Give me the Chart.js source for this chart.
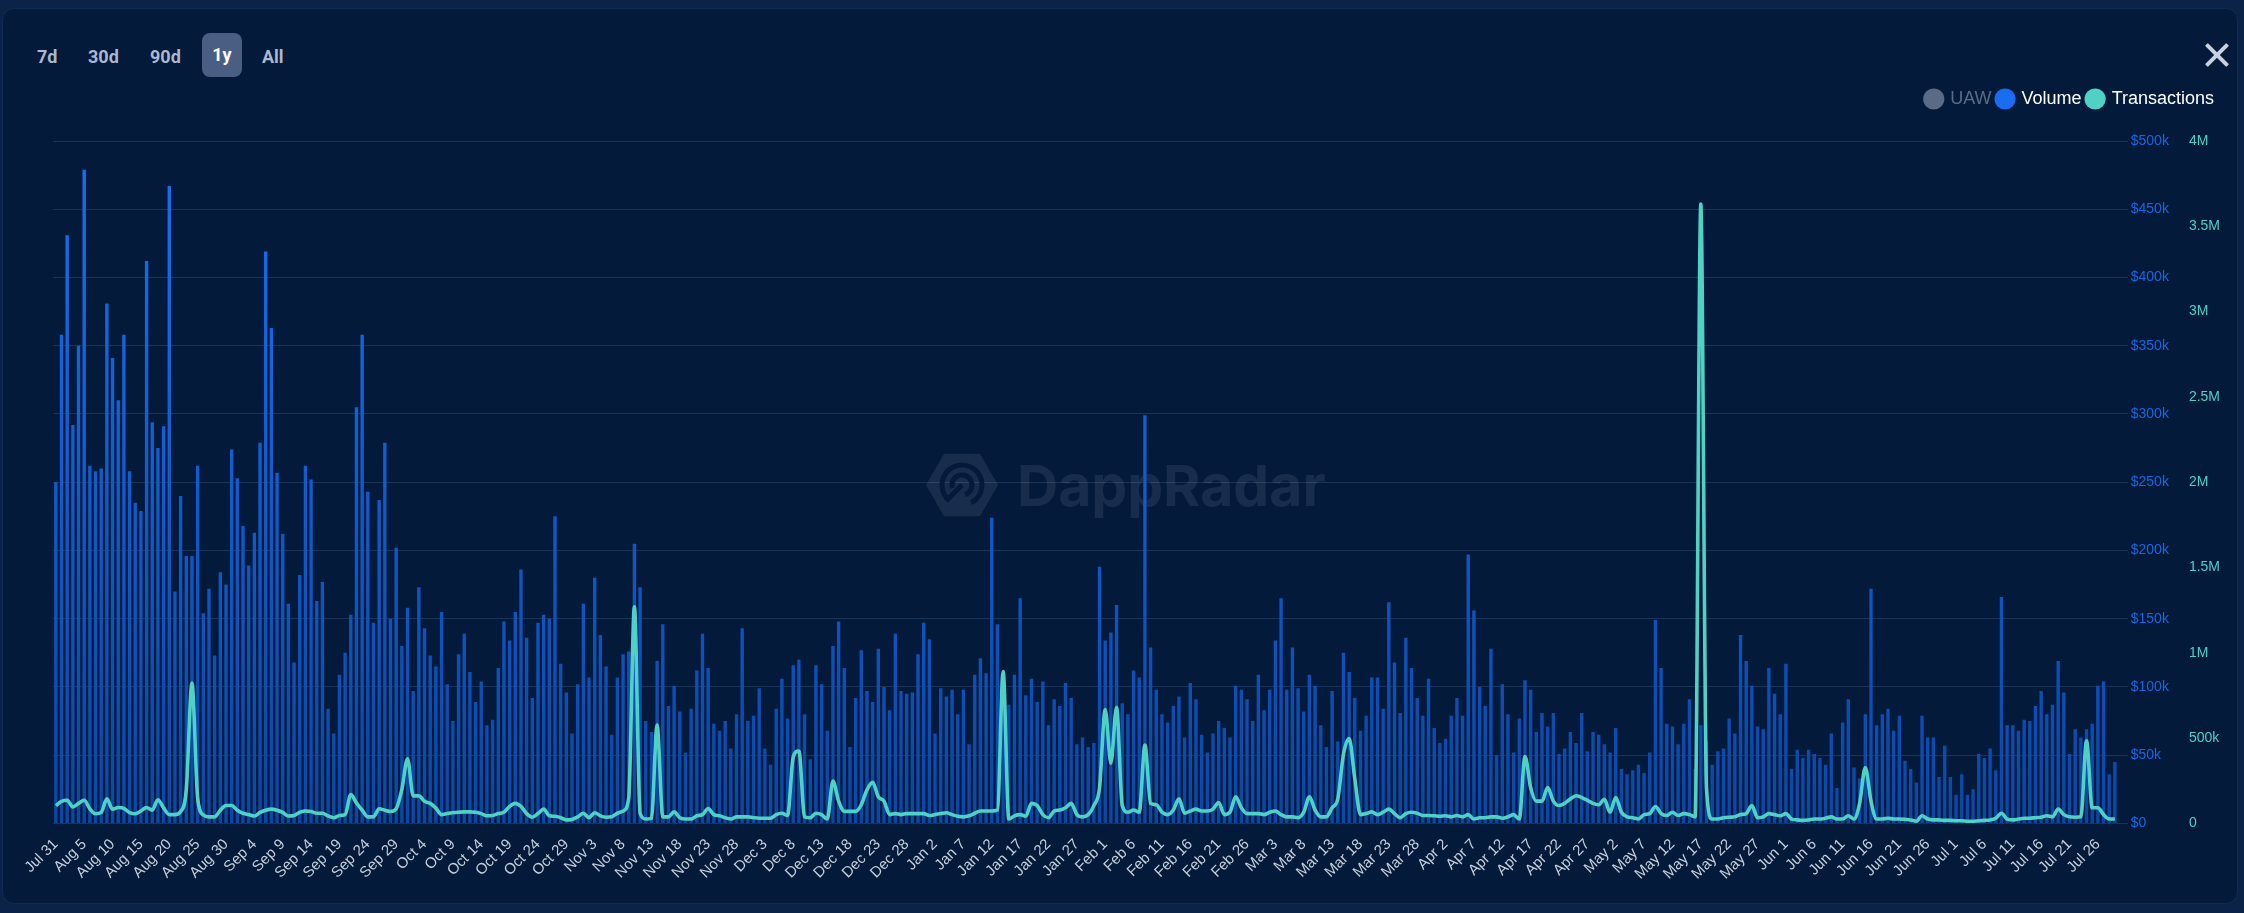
<!DOCTYPE html>
<html lang="en">
<head>
<meta charset="UTF-8">
<title>Volume / Transactions - 1y</title>
<script src="https://cdn.jsdelivr.net/npm/chart.js@4.4.0/dist/chart.umd.min.js"></script>
<style>
  html, body { margin: 0; padding: 0; width: 2244px; height: 913px; overflow: hidden; background: #0a2347; font-family: "Liberation Sans", Arial, sans-serif; }
  .panel { position: absolute; left: 2px; top: 8px; width: 2236px; height: 896px; background: #031a3a; border-radius: 12px; border: 1px solid #0d2b54; box-sizing: border-box; }
  .range { position: absolute; top: 46px; font: bold 18px Roboto, "Liberation Sans", sans-serif; color: #aab8cf; }
  .range.active { top: 33px; left: 202px; width: 40px; height: 44px; line-height: 44px; text-align: center; background: #4a5e84; color: #fff; border-radius: 8px; }
  .close { position: absolute; left: 2205px; top: 43px; width: 24px; height: 24px; }
  .close:before, .close:after { content: ""; position: absolute; left: 10px; top: -3px; width: 4px; height: 30px; background: #c9d1dd; border-radius: 1px; }
  .close:before { transform: rotate(45deg); }
  .close:after { transform: rotate(-45deg); }
  #wrap { position: absolute; left: 0; top: 84px; width: 2229px; height: 834px; }
</style>
</head>
<body>
<div class="panel"></div>
<span class="range" style="left:37px">7d</span>
<span class="range" style="left:88px">30d</span>
<span class="range" style="left:150px">90d</span>
<span class="range active">1y</span>
<span class="range" style="left:262px">All</span>
<div class="close"></div>

<div id="wrap"><canvas id="chart"></canvas></div>

<script>
// daily volume, in $k
const volume = [
  250,358,431,292,350,479,262,258,260,381, 341,310,358,258,235,229,412,294,275,291,
  467,170,240,196,196,262,154,172,123,184, 175,274,253,218,189,213,279,419,363,257,
  212,161,118,182,262,252,163,177,84,66, 109,125,153,305,358,243,147,237,279,150,
  202,130,158,97,173,143,123,115,155,102, 75,124,139,111,89,104,72,76,114,148,
  134,155,186,136,92,147,153,150,225,117, 96,66,102,161,107,180,138,115,65,107,
  124,126,205,173,75,67,119,146,86,101, 82,52,84,112,139,114,73,68,75,55,
  80,143,75,79,99,55,43,84,106,77, 116,120,80,47,116,102,68,130,148,114,
  56,92,127,97,89,128,100,83,139,97, 95,96,124,147,135,66,99,93,98,80,
  98,58,109,121,110,224,146,105,87,109, 165,94,106,89,104,72,91,86,103,92,
  58,63,56,59,188,134,140,160,88,80, 112,107,299,129,98,80,74,86,93,63,
  103,91,65,52,66,75,70,63,101,98, 91,75,109,83,98,134,165,98,129,99,
  82,109,101,72,56,97,60,125,111,92, 68,79,107,107,84,162,118,81,136,114,
  92,79,106,70,59,62,79,92,79,197, 156,100,86,128,50,102,80,52,77,105,
  98,67,81,71,81,51,55,67,59,81, 53,67,65,58,52,70,40,36,39,43,
  37,52,149,114,73,71,58,73,91,40, 72,60,43,53,55,77,66,138,119,101,
  71,69,114,95,80,117,40,54,48,54, 51,48,43,66,26,74,91,41,33,80,
  172,72,80,84,68,79,46,40,30,79, 63,63,34,57,34,21,36,21,25,51,
  48,55,39,166,72,72,68,76,75,86, 97,80,87,119,96,51,69,63,69,73,
  101,104,36,45
];

// daily transactions, in thousands
const transactions = [
  105,130,136,97,118,136,86,57,65,144, 84,94,89,63,57,73,94,78,139,91,
  52,52,70,200,823,150,50,39,39,78, 105,105,78,60,52,44,65,78,84,78,
  65,44,47,65,73,70,60,60,44,34, 47,52,170,120,78,39,39,86,78,70,
  86,200,379,162,162,130,118,90,52,58, 63,66,68,68,66,58,45,47,58,66,
  100,118,100,58,37,58,84,45,42,34, 21,24,39,60,34,63,45,37,39,60,
  73,150,1270,60,26,30,577,39,39,68, 34,26,26,45,52,87,52,45,34,26,
  39,39,39,34,31,31,31,52,60,47, 390,425,39,34,60,52,26,249,131,71,
  71,71,110,197,241,157,131,52,58,52, 58,58,58,58,47,52,58,63,52,42,
  39,45,60,73,73,73,79,891,26,45, 52,42,118,105,52,34,73,79,92,118,
  52,39,52,105,210,668,354,681,105,66, 79,66,459,118,110,66,52,79,144,60,
  73,84,73,73,84,123,52,66,157,92, 58,58,58,52,66,73,52,39,39,34,
  66,157,79,39,39,92,144,406,498,262, 52,58,68,52,66,84,58,34,58,66,
  60,47,47,45,42,45,39,47,39,52, 26,34,34,39,39,31,39,52,26,393,
  210,131,131,210,131,105,118,144,163,152, 136,118,110,142,66,152,66,39,34,26,
  52,58,100,58,47,66,47,58,52,39, 3630,210,26,26,34,37,39,52,58,105,
  34,39,58,52,45,58,26,21,18,21, 26,26,31,39,26,26,45,26,118,328,
  131,26,26,31,26,26,24,21,13,45, 26,21,21,18,18,16,16,13,13,16,
  18,21,31,60,26,21,26,31,31,34, 37,45,39,84,52,39,37,39,485,92,
  92,52,26,26
];

// one category per day, starting Jul 31
const monthNames = ['Jan','Feb','Mar','Apr','May','Jun','Jul','Aug','Sep','Oct','Nov','Dec'];
const firstDay = Date.UTC(2022, 6, 31);
const days = volume.map((_, i) => {
  const d = new Date(firstDay + i * 86400000);
  return monthNames[d.getUTCMonth()] + ' ' + d.getUTCDate();
});

const BG = '#031a3a';
const BLUE = '#1a6cf0';
const TEAL = '#4fd1c5';
const FONT = '"Liberation Sans", Arial, sans-serif';

// faint DappRadar mark behind the plot
const watermark = {
  id: 'watermark',
  beforeDatasetsDraw(chart) {
    const ctx = chart.ctx;
    const cx = 962, cy = 401;
    ctx.save();
    ctx.fillStyle = 'rgba(255,255,255,0.085)';
    ctx.beginPath();
    for (let k = 0; k < 6; k++) {
      const a = Math.PI / 3 * k;
      ctx.lineTo(cx + 36 * Math.cos(a), cy + 36 * Math.sin(a));
    }
    ctx.closePath();
    ctx.fill();
    ctx.strokeStyle = BG;
    ctx.lineWidth = 5;
    ctx.beginPath(); ctx.arc(cx, cy, 20, Math.PI * 0.75, Math.PI * 2.35); ctx.stroke();
    ctx.beginPath(); ctx.arc(cx, cy, 10, Math.PI * 0.9, Math.PI * 2.4); ctx.stroke();
    ctx.beginPath(); ctx.moveTo(cx, cy); ctx.lineTo(cx - 16, cy + 16); ctx.stroke();
    ctx.font = 'bold 57px Inter, "Liberation Sans", sans-serif';
    ctx.textBaseline = 'alphabetic';
    ctx.fillText('DappRadar', cx + 55, cy + 21);
    ctx.restore();
  }
};

// more room under the legend, and pull the legend in from the right edge
const legendFix = {
  id: 'legendFix',
  beforeInit(chart) {
    const fit = chart.legend.fit;
    chart.legend.fit = function () { fit.bind(chart.legend)(); this.height += 23; };
  },
  afterUpdate(chart) {
    chart.legend.right -= 9;
  }
};

const ctx = document.getElementById('chart').getContext('2d');
new Chart(ctx, {
  data: {
    labels: days,
    datasets: [
      { type: 'line', label: 'UAW', data: [], hidden: true, yAxisID: 'y1' },
      {
        type: 'bar', label: 'Volume', data: volume, yAxisID: 'y', order: 2,
        backgroundColor: c => {
          const area = c.chart.chartArea;
          if (!area) return BLUE;
          const g = c.chart.ctx.createLinearGradient(0, area.top, 0, area.bottom);
          g.addColorStop(0, '#1a70f2');
          g.addColorStop(1, '#0b47a6');
          return g;
        },
        categoryPercentage: 0.9, barPercentage: 0.66
      },
      {
        type: 'line', label: 'Transactions', data: transactions, yAxisID: 'y1', order: 1,
        borderColor: TEAL, borderWidth: 3.6, pointRadius: 0, cubicInterpolationMode: 'monotone'
      }
    ]
  },
  options: {
    responsive: true,
    maintainAspectRatio: false,
    animation: false,
    layout: { padding: { left: 53, right: 0, top: 0, bottom: 23 } },
    plugins: {
      tooltip: { enabled: false },
      legend: {
        position: 'top', align: 'end',
        labels: {
          usePointStyle: true, pointStyle: 'circle', boxWidth: 15, boxHeight: 15, padding: 6,
          font: { size: 18, family: FONT },
          generateLabels: chart => chart.data.datasets.map((ds, i) => {
            const off = i === 0;
            const col = off ? '#5b6b85' : (i === 1 ? BLUE : TEAL);
            return { text: ds.label, fillStyle: col, strokeStyle: col, lineWidth: 0, pointStyle: 'circle',
                     fontColor: off ? '#5b6b85' : '#ffffff', hidden: false, datasetIndex: i };
          })
        }
      }
    },
    scales: {
      x: {
        grid: { display: false, drawTicks: false },
        border: { display: false },
        ticks: {
          autoSkip: false, minRotation: 45, maxRotation: 45, padding: 12,
          color: '#c6cfdb', font: { size: 15, family: FONT },
          callback: function (v, i) { return i % 5 === 0 ? days[i] : ''; }
        }
      },
      y: {
        position: 'right', min: 0, max: 500,
        grid: { color: '#1a3357', lineWidth: 1, tickLength: 10 },
        border: { display: false },
        ticks: {
          stepSize: 50, padding: 3, color: '#1a66e0',
          font: { size: 14, family: FONT },
          callback: v => v === 0 ? '$0' : '$' + v + 'k'
        }
      },
      y1: {
        position: 'right', min: 0, max: 4000,
        grid: { drawOnChartArea: false, display: false },
        border: { display: false },
        ticks: {
          stepSize: 500, padding: 9, color: TEAL,
          font: { size: 14, family: FONT },
          callback: v => v === 0 ? '0' : (v >= 1000 ? (v / 1000) + 'M' : v + 'k')
        }
      }
    }
  },
  plugins: [watermark, legendFix]
});
</script>
</body>
</html>
